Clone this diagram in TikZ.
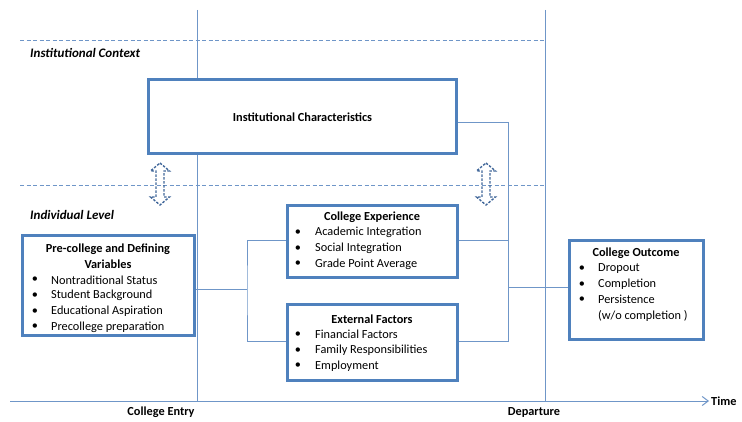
\documentclass[tikz,border=0pt]{standalone}
\usepackage{fontspec}
\setmainfont{Carlito}
\usetikzlibrary{arrows.meta}
\definecolor{boxblue}{HTML}{4F81BD}
\definecolor{linblue}{HTML}{6F96C8}
\definecolor{arrblue}{HTML}{41679A}
\tikzset{
  box/.style={draw=boxblue,line width=3pt,fill=white,inner sep=0pt},
  conn/.style={draw=linblue,line width=1pt},
  sep/.style={draw=linblue,line width=0.9pt,dash pattern=on 4pt off 2.5pt},
  ttl/.style={font=\fontsize{12.3}{14}\selectfont\bfseries,inner sep=0pt},
  itm/.style={font=\fontsize{12.3}{14}\selectfont,anchor=west,inner sep=0pt},
  bul/.style={font=\fontsize{12.3}{14}\selectfont,inner sep=0pt},
  lvl/.style={font=\fontsize{13}{15}\selectfont\bfseries\itshape,anchor=west,inner sep=0pt},
  dblarrow/.pic={\draw[arrblue,line width=1.4pt,dash pattern=on 2.5pt off 1.5pt,line join=miter]
     (0,-21) -- (9.5,-13) -- (4,-13) -- (4,13) -- (9.5,13) -- (0,21) -- (-9.5,13) -- (-4,13) -- (-4,-13) -- (-9.5,-13) -- cycle;}
}
\begin{document}
\begin{tikzpicture}[x=1pt,y=-1pt]
\useasboundingbox (0,0) rectangle (742,422);
% timeline verticals
\coordinate (entrytop) at (197,10);
\coordinate (entrybot) at (197,401);
\coordinate (deptop) at (545,10);
\coordinate (depbot) at (545,401);
\draw[conn] (entrytop) -- (entrybot);
\draw[conn] (deptop) -- (depbot);
% dashed separators
\coordinate (s1a) at (20,40); \coordinate (s1b) at (545,40);
\coordinate (s2a) at (20,185); \coordinate (s2b) at (545,185);
\draw[sep] (s1a) -- (s1b);
\draw[sep] (s2a) -- (s2b);
\node[lvl] (ctx) at (30,53) {Institutional Context};
\node[lvl] (ind) at (30,215) {Individual Level};
% time axis
\coordinate (ax0) at (10,401);
\coordinate (ax1) at (709,401);
\draw[conn,-{Straight Barb[length=6pt,width=9pt,line width=1pt]}] (ax0) -- (ax1);
\node[ttl,anchor=west] (time) at (711,401) {Time};
\node[ttl] (entry) at (161,412) {College Entry};
\node[ttl] (dep) at (534,412) {Departure};
% boxes
\node[box,minimum width=308pt,minimum height=74pt] (inst) at (302.5,117) {};
\node[ttl] (instt) at (inst) {Institutional Characteristics};
\node[box,minimum width=172pt,minimum height=100pt] (pre) at (108.5,285.5) {};
\node[box,minimum width=170pt,minimum height=72pt] (ce) at (372.5,241.5) {};
\node[box,minimum width=170pt,minimum height=76pt] (ef) at (372.5,342.5) {};
\node[box,minimum width=134pt,minimum height=99pt] (co) at (636.5,290) {};
% pre-college text
\node[ttl] (pret1) at (108,249) {Pre-college and Defining};
\node[ttl] (pret2) at (108,264.5) {Variables};
\foreach \t [count=\i] in {Nontraditional Status,Student Background,Educational Aspiration,Precollege preparation}{
  \node[bul] (preb\i) at (35,264.5+15.6*\i) {\textbullet};
  \node[itm] (prei\i) at (51,264.5+15.6*\i) {\t};
}
% college experience text
\node[ttl] (cet) at (372,217) {College Experience};
\foreach \t [count=\i] in {Academic Integration,Social Integration,Grade Point Average}{
  \node[bul] (ceb\i) at (298,217+15.6*\i) {\textbullet};
  \node[itm] (cei\i) at (315,217+15.6*\i) {\t};
}
% external factors text
\node[ttl] (eft) at (372,319) {External Factors};
\foreach \t [count=\i] in {Financial Factors,Family Responsibilities,Employment}{
  \node[bul] (efb\i) at (298,319+15.6*\i) {\textbullet};
  \node[itm] (efi\i) at (315,319+15.6*\i) {\t};
}
% college outcome text
\node[ttl] (cot) at (636,253) {College Outcome};
\foreach \t [count=\i] in {Dropout,Completion,Persistence}{
  \node[bul] (cob\i) at (582,253+15.6*\i) {\textbullet};
  \node[itm] (coi\i) at (598,253+15.6*\i) {\t};
}
\node[itm] (coi4) at (598,315.8) {(w/o completion )};
% connectors
\coordinate (jl) at (247,290);
\coordinate (jr) at (508,288);
\coordinate (jtop) at (508,123);
\draw[conn] (pre.east |- jl) -- (jl);
\draw[conn] (ce.west |- 0,241) -| (jl) |- (ef.west |- 0,341);
\draw[conn] (ce.east |- 0,241) -- (jr |- 0,241);
\draw[conn] (ef.east |- 0,341) -| (jtop) -- (inst.east |- jtop);
\draw[conn] (jr) -- (co.west |- jr);
% double arrows
\pic (da1) at (160,184) {dblarrow};
\pic (da2) at (486,184) {dblarrow};
\end{tikzpicture}
\end{document}
